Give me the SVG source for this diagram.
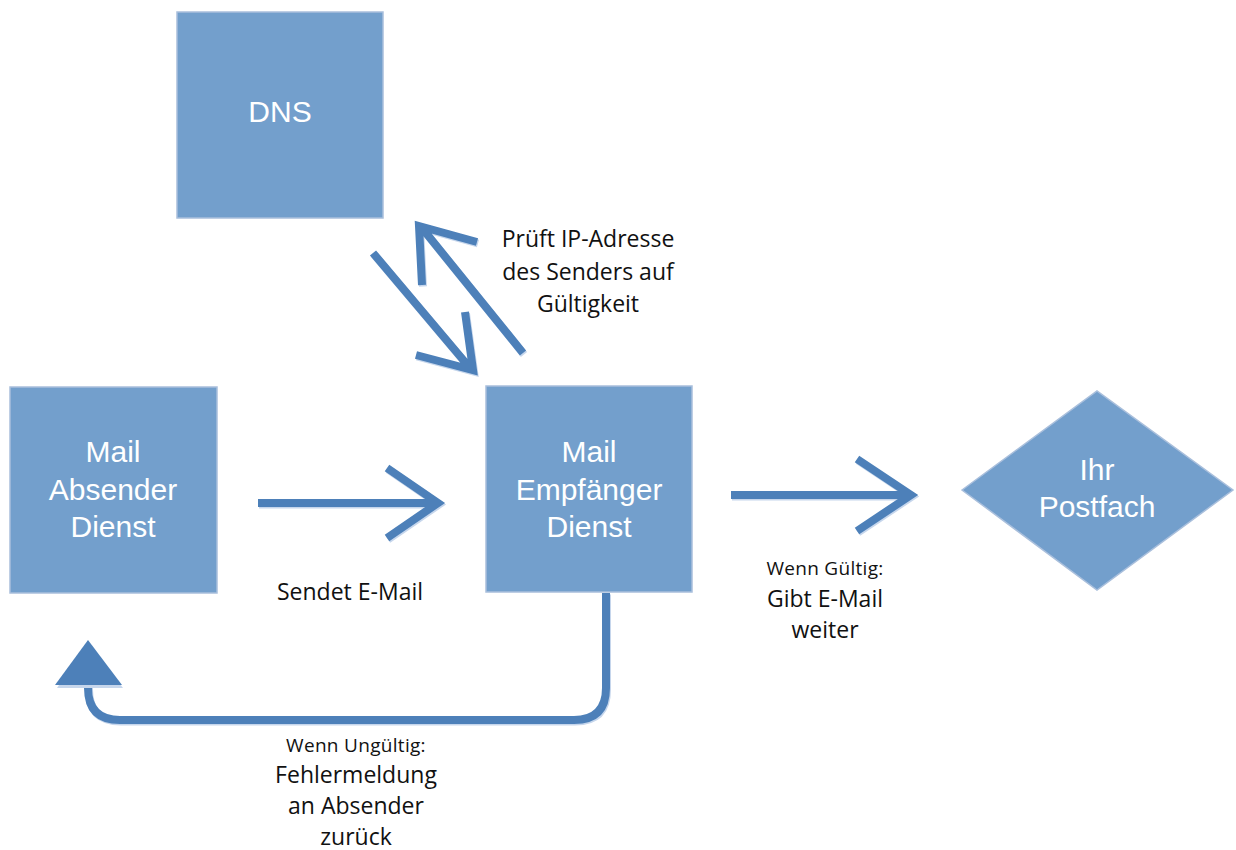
<svg xmlns="http://www.w3.org/2000/svg" width="1236" height="850" viewBox="0 0 1236 850">
<defs>
<style>
.box{fill:#739fcc;stroke:#a9bfdc;stroke-width:1.5}
.nt{font-family:"Liberation Sans",Arial,sans-serif;font-size:30px;fill:#ffffff;text-anchor:middle}
.lb{font-family:"Open Sans","Noto Sans",sans-serif;font-size:23px;fill:#111111;text-anchor:middle}
.sm{font-family:"Open Sans","Noto Sans",sans-serif;font-size:19px;fill:#111111;text-anchor:middle;letter-spacing:0.3px}
.ar{fill:none;stroke:#4d80b9;stroke-width:8;stroke-linejoin:miter;stroke-linecap:butt}
.sh{fill:none;stroke:#c6d6ec;stroke-width:8;stroke-linejoin:miter}
.sf{fill:#c6d6ec}
.tri{fill:#4d80b9}
</style>
</defs>
<rect width="1236" height="850" fill="#ffffff"/>
<g id="dns">
<rect class="box" x="177" y="12" width="206" height="206"/>
<text class="nt" x="280" y="122">DNS</text>
</g>
<g id="absender">
<rect class="box" x="10" y="387" width="207" height="206"/>
<text class="nt" x="113" y="462">Mail</text>
<text class="nt" x="113" y="500">Absender</text>
<text class="nt" x="113" y="537">Dienst</text>
</g>
<g id="empfaenger">
<rect class="box" x="486" y="386" width="206" height="206"/>
<text class="nt" x="589" y="462">Mail</text>
<text class="nt" x="589" y="500">Empfänger</text>
<text class="nt" x="589" y="537">Dienst</text>
</g>
<g id="postfach">
<polygon points="962,490 1097,391 1233,490 1097,590" fill="#739fcc" stroke="#a9bfdc" stroke-width="1.5"/>
<text class="nt" x="1097" y="480">Ihr</text>
<text class="nt" x="1097" y="517">Postfach</text>
</g>
<g id="connectors">
<g transform="translate(1,1.5)">
<path class="sh" d="M258,503 H436 M387,468 L438,503 L387,538"/>
<path class="sh" d="M731,495 H909 M857,459 L911,495 L857,531"/>
<path class="sh" d="M373,253 L470,368 M465,312 L473,370 L416,355"/>
<path class="sh" d="M523,353 L422,228 M477,242 L419,226 L422,285"/>
<path class="sh" d="M606,593 V688 Q606,720 574,720 H120 Q88,720 88,688 V684"/>
</g>
<path class="ar" d="M258,503 H436 M387,468 L438,503 L387,538"/>
<path class="ar" d="M731,495 H909 M857,459 L911,495 L857,531"/>
<path class="ar" d="M373,253 L470,368 M465,312 L473,370 L416,355"/>
<path class="ar" d="M523,353 L422,228 M477,242 L419,226 L422,285"/>
<path class="ar" d="M606,593 V688 Q606,720 574,720 H120 Q88,720 88,688 V684"/>
<polygon class="sf" points="88,642 123,688 57,688"/>
<polygon class="tri" points="88,640 122,685 55,685"/>
</g>
<g id="labels">
<text class="lb" x="588" y="247">Prüft IP-Adresse</text>
<text class="lb" x="588" y="280">des Senders auf</text>
<text class="lb" x="588" y="312">Gültigkeit</text>
<text class="lb" x="350" y="600">Sendet E-Mail</text>
<text class="sm" x="825" y="575">Wenn Gültig:</text>
<text class="lb" x="825" y="607">Gibt E-Mail</text>
<text class="lb" x="825" y="638">weiter</text>
<text class="sm" x="356" y="752">Wenn Ungültig:</text>
<text class="lb" x="356" y="783">Fehlermeldung</text>
<text class="lb" x="356" y="814">an Absender</text>
<text class="lb" x="356" y="845">zurück</text>
</g>
</svg>
